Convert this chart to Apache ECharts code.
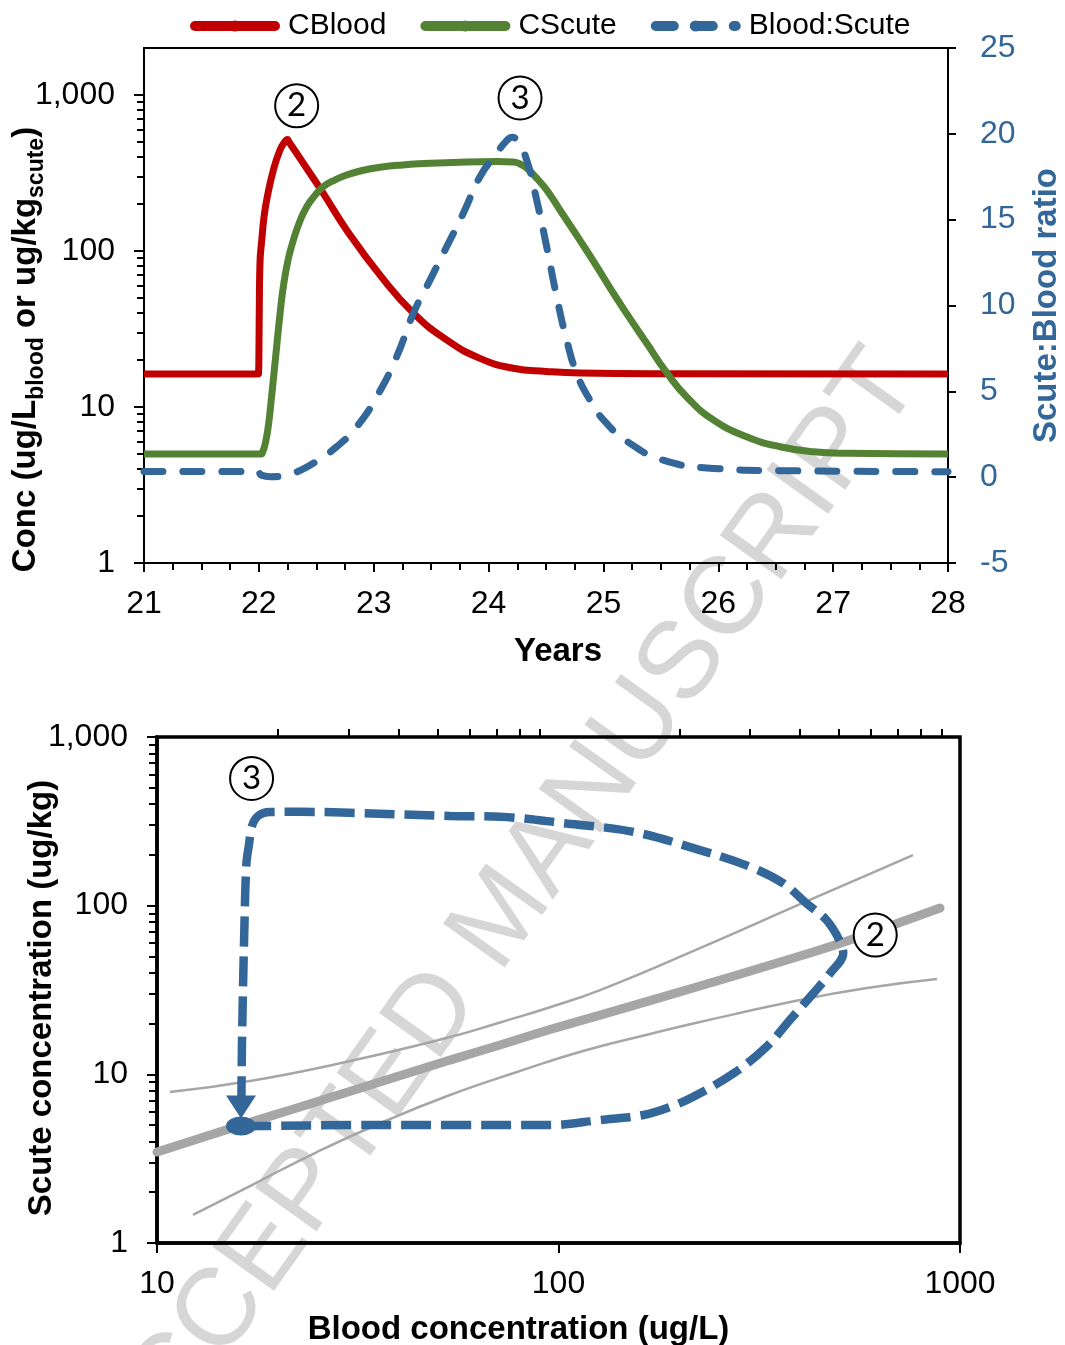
<!DOCTYPE html>
<html><head><meta charset="utf-8">
<script src="https://cdn.jsdelivr.net/npm/echarts@6/dist/echarts.min.js"></script>
<style>html,body{margin:0;padding:0;background:#fff}#c{width:1065px;height:1345px}</style>
</head><body><div id="c"></div>
<script>
const FONT = '"Liberation Sans", Arial, Helvetica, sans-serif';
const NUMFONT = 'Lato, "Open Sans", sans-serif';
const RED = '#C00000', GREEN = '#548235', BLUE = '#336699', GRAY = '#A6A6A6', BLACK = '#000000';

// ---------- top chart: time series ----------
const bloodYears = [21, 21.99, 21.997, 22.0, 22.004, 22.01, 22.025, 22.045, 22.068, 22.126, 22.184, 22.225, 22.248, 22.262, 22.387, 22.561, 22.765, 23.055, 23.345, 23.635, 23.925, 24.215, 24.5, 24.8, 25.5, 28];
const bloodConc  = [16.3, 16.3, 16.4, 20, 45, 85, 117, 165, 212, 330, 444, 500, 518, 500, 365, 234, 136, 70, 40, 26.9, 20.5, 17.7, 16.9, 16.5, 16.35, 16.3];

const scuteYears = [21, 22.02, 22.035, 22.05, 22.07, 22.087, 22.11, 22.13, 22.155, 22.185, 22.213, 22.255, 22.3, 22.357, 22.417, 22.49, 22.561, 22.66, 22.765, 22.9, 23.055, 23.25, 23.49, 23.75, 24.07, 24.215, 24.27, 24.332, 24.42, 24.506, 24.65, 24.796, 24.94, 25.086, 25.23, 25.377, 25.551, 25.725, 25.957, 26.247, 26.537, 26.827, 27.118, 28];
const scuteConc  = [5.0, 5.0, 5.2, 5.6, 6.6, 8.0, 11.5, 16, 24.4, 40, 59, 88, 117, 155, 192, 228, 258, 285, 307, 328, 344, 356, 365, 371, 374, 372, 362, 340, 292, 246, 170, 117, 80, 53.6, 37, 25.6, 16.6, 11.6, 8.26, 6.45, 5.56, 5.16, 5.05, 5.0];

const ratioYears = [21, 21.99, 22.02, 22.1, 22.2, 22.3, 22.474, 22.677, 22.852, 23.026, 23.2, 23.345, 23.49, 23.635, 23.78, 23.925, 24.07, 24.15, 24.205, 24.26, 24.332, 24.419, 24.506, 24.593, 24.68, 24.767, 24.883, 25.028, 25.231, 25.521, 25.957, 26.537, 28];
const ratioVals  = [0.33, 0.33, 0.12, 0.03, 0.06, 0.22, 0.81, 1.77, 2.94, 4.69, 7.02, 9.54, 11.48, 13.42, 15.37, 17.5, 18.86, 19.55, 19.8, 19.45, 18.47, 16.14, 13.42, 10.51, 7.99, 6.05, 4.49, 3.13, 1.97, 0.99, 0.51, 0.38, 0.32];

const topAnnotLabels = ['2', '3'];
const topAnnotYears  = [22.329, 24.274];
const topAnnotConc   = [853, 957];

// ---------- bottom chart: blood vs scute ----------
const loopBlood = [16.2, 20, 30.2, 53.7, 95.2, 126.9, 162.6, 189.5, 216.7, 272.5, 330, 377, 431, 474.6, 512, 500.6, 465, 415, 363, 300, 225, 153.6, 104.8, 71.5, 53.7, 30.2, 22.7, 19.1, 17.85, 17.24, 16.94, 16.7, 16.5, 16.3, 16.25, 16.23];
const loopScute = [4.92, 4.95, 5.0, 5.0, 5.0, 5.36, 5.74, 6.4, 7.37, 10.1, 14.6, 21.0, 30.2, 39.7, 52.2, 62.5, 82.2, 103, 135.6, 170, 213.6, 274, 307, 336.6, 340, 355.6, 360, 359, 340, 296, 228.5, 178, 71.7, 18.3, 10.6, 7.3];

const fitBlood = [10, 16.09, 22.71, 36.55, 53.68, 71.51, 95.25, 126.9, 225.1, 399.5, 532.1, 891.7];
const fitScute = [3.46, 4.97, 6.40, 9.13, 12.15, 14.92, 18.43, 22.46, 33.38, 50.26, 62.54, 96.78];

const upperBlood = [10.77, 17.04, 30.25, 53.68, 71.51, 95.25, 126.9, 225.1, 399.5, 586.7, 763.6];
const upperScute = [7.86, 9.13, 11.99, 16.64, 20.3, 25.0, 31.6, 56.07, 102.2, 151.9, 199.5];

const lowerBlood = [12.29, 17.04, 25.03, 36.55, 53.68, 78.8, 115.1, 169.0, 225.1, 399.5, 586.7, 876.3];
const lowerScute = [1.466, 2.177, 3.463, 5.216, 7.54, 10.32, 13.74, 17.34, 20.42, 27.57, 32.48, 36.72];

const botAnnotLabels = ['3', '2'];
const botAnnotBlood  = [17.2, 615];
const botAnnotScute  = [568, 66.9];
const arrowBlood = 16.19, arrowScute = 6.4;
const startBlood = 16.19, startScute = 4.94;

// ---------- ticks ----------
const decadeTicks = [1, 10, 100, 1000];
const minorLogTicks = [2,3,4,5,6,7,8,9,20,30,40,50,60,70,80,90,200,300,400,500,600,700,800,900];

const zip = (a, b) => a.map((v, i) => [v, b[i]]);
const commas = v => Math.round(v).toLocaleString('en-US');

const circleMark = (name, coord) => ({
  name, coord, symbol: 'circle', symbolSize: 43,
  itemStyle: {color: '#ffffff', borderColor: BLACK, borderWidth: 2},
  label: {show: true, position: 'inside', formatter: '{b}', fontSize: 33, color: BLACK, fontFamily: NUMFONT}
});

const axisLabelStyle = {fontSize: 32, color: BLACK, fontFamily: FONT};
const nameStyle = {fontSize: 33, fontWeight: 'bold', color: BLACK, fontFamily: FONT};

const chart = echarts.init(document.getElementById('c'), null, {renderer: 'canvas'});
chart.setOption({
  animation: false,
  backgroundColor: '#ffffff',
  textStyle: {fontFamily: FONT},
  graphic: [{
    type: 'text', x: 897, y: 365, rotation: 54.5 * Math.PI / 180, z: -10, silent: true,
    style: {text: 'ACCEPTED MANUSCRIPT', fontSize: 110, fontFamily: FONT, fill: '#D6D6D6', align: 'right', verticalAlign: 'middle'}
  }],
  legend: {
    top: 6, left: 185, itemWidth: 80, itemHeight: 14, itemGap: 34, selectedMode: false,
    textStyle: {fontSize: 30, color: BLACK, fontFamily: FONT, padding: [0, 0, 0, 8]},
    lineStyle: {width: 10, cap: 'round'},
    data: ['CBlood', 'CScute', {name: 'Blood:Scute', lineStyle: {width: 10, cap: 'round', type: [18, 21]}}]
  },
  grid: [
    {left: 144, top: 48, width: 804, height: 515, show: true, borderColor: BLACK, borderWidth: 2, backgroundColor: 'transparent', outerBoundsMode: 'none'},
    {left: 157, top: 737, width: 803, height: 506, show: true, borderColor: BLACK, borderWidth: 3.5, backgroundColor: 'transparent', outerBoundsMode: 'none'}
  ],
  xAxis: [
    {gridIndex: 0, type: 'value', min: 21, max: 28, interval: 1,
     axisLine: {onZero: false, lineStyle: {color: BLACK, width: 2}},
     axisTick: {length: 9, lineStyle: {color: BLACK, width: 2}},
     minorTick: {show: true, splitNumber: 4, length: 7, lineStyle: {color: BLACK, width: 2}},
     splitLine: {show: false}, minorSplitLine: {show: false},
     axisLabel: Object.assign({margin: 25}, axisLabelStyle),
     name: 'Years', nameLocation: 'middle', nameGap: 72,
     nameTextStyle: Object.assign({padding: [0, 0, 0, 24]}, nameStyle)},
    {gridIndex: 1, type: 'log', logBase: 10, min: 10, max: 1000,
     axisLine: {onZero: false, lineStyle: {color: BLACK, width: 3.5}},
     axisTick: {length: 10, customValues: [10, 100, 1000], lineStyle: {color: BLACK, width: 2}},
     splitLine: {show: false},
     axisLabel: Object.assign({margin: 25, customValues: [10, 100, 1000], formatter: v => String(Math.round(v))}, axisLabelStyle),
     name: 'Blood concentration (ug/L)', nameLocation: 'middle', nameGap: 70,
     nameTextStyle: Object.assign({padding: [0, 80, 0, 0]}, nameStyle)},
    {gridIndex: 1, type: 'log', logBase: 10, min: 10, max: 1000,
     axisLine: {show: false, onZero: false},
     axisTick: {length: 8, customValues: minorLogTicks.map(v => v * 10), lineStyle: {color: BLACK, width: 2}},
     splitLine: {show: false}, axisLabel: {show: false}}
  ],
  yAxis: [
    {gridIndex: 0, type: 'log', logBase: 10, min: 1, max: 2000, position: 'left',
     axisLine: {show: true, onZero: false, lineStyle: {color: BLACK, width: 2}},
     axisTick: {show: true, length: 10, customValues: decadeTicks, lineStyle: {color: BLACK, width: 2}},
     splitLine: {show: false},
     axisLabel: Object.assign({margin: 29, customValues: decadeTicks, formatter: commas}, axisLabelStyle),
     name: '{b|Conc (ug/L}{s|blood}{b| or ug/kg}{s|scute}{b|)}', nameLocation: 'middle', nameGap: 96, nameMoveOverlap: false,
     nameTextStyle: {padding: [0, 88, 0, 0], rich: {
       b: {fontSize: 33, fontWeight: 'bold', color: BLACK, fontFamily: FONT, lineHeight: 44, verticalAlign: 'middle'},
       s: {fontSize: 23, fontWeight: 'bold', color: BLACK, fontFamily: FONT, lineHeight: 20, verticalAlign: 'bottom'}
     }}},
    {gridIndex: 0, type: 'value', min: -5, max: 25, interval: 5, position: 'right',
     axisLine: {show: true, onZero: false, lineStyle: {color: BLACK, width: 2}},
     axisTick: {show: true, length: 8, lineStyle: {color: BLACK, width: 2}},
     splitLine: {show: false},
     axisLabel: {margin: 32, fontSize: 32, color: BLUE, fontFamily: FONT},
     name: 'Scute:Blood ratio', nameLocation: 'middle', nameGap: 82, nameMoveOverlap: false,
     nameTextStyle: {fontSize: 33, fontWeight: 'bold', color: BLUE, fontFamily: FONT}},
    {gridIndex: 0, type: 'log', logBase: 10, min: 1, max: 2000, position: 'left',
     axisLine: {show: false, onZero: false},
     axisTick: {show: true, length: 7, customValues: minorLogTicks, lineStyle: {color: BLACK, width: 2}},
     splitLine: {show: false}, axisLabel: {show: false}},
    {gridIndex: 1, type: 'log', logBase: 10, min: 1, max: 1000, position: 'left',
     axisLine: {show: true, onZero: false, lineStyle: {color: BLACK, width: 3.5}},
     axisTick: {show: true, length: 10, customValues: decadeTicks, lineStyle: {color: BLACK, width: 2}},
     splitLine: {show: false},
     axisLabel: Object.assign({margin: 29, customValues: decadeTicks, formatter: commas}, axisLabelStyle),
     name: 'Scute concentration (ug/kg)', nameLocation: 'middle', nameGap: 99, nameMoveOverlap: false,
     nameTextStyle: Object.assign({padding: [0, 16, 0, 0]}, nameStyle)},
    {gridIndex: 1, type: 'log', logBase: 10, min: 1, max: 1000, position: 'left',
     axisLine: {show: false, onZero: false},
     axisTick: {show: true, length: 8, customValues: minorLogTicks, lineStyle: {color: BLACK, width: 2}},
     splitLine: {show: false}, axisLabel: {show: false}}
  ],
  series: [
    {name: 'CBlood', type: 'line', xAxisIndex: 0, yAxisIndex: 0, symbol: 'none', smooth: 0.5,
     data: zip(bloodYears, bloodConc), itemStyle: {color: RED},
     lineStyle: {color: RED, width: 7, join: 'round'},
     markPoint: {data: topAnnotLabels.map((n, i) => circleMark(n, [topAnnotYears[i], topAnnotConc[i]]))}},
    {name: 'CScute', type: 'line', xAxisIndex: 0, yAxisIndex: 0, symbol: 'none', smooth: 0.5,
     data: zip(scuteYears, scuteConc), itemStyle: {color: GREEN},
     lineStyle: {color: GREEN, width: 7, join: 'round'}},
    {name: 'Blood:Scute', type: 'line', xAxisIndex: 0, yAxisIndex: 1, symbol: 'none', smooth: 0.5,
     data: zip(ratioYears, ratioVals), itemStyle: {color: BLUE},
     lineStyle: {color: BLUE, width: 7, type: [19, 20], cap: 'round'}},

    {type: 'line', xAxisIndex: 1, yAxisIndex: 3, symbol: 'none', smooth: 0.5, z: 1,
     data: zip(upperBlood, upperScute), lineStyle: {color: GRAY, width: 2.5}},
    {type: 'line', xAxisIndex: 1, yAxisIndex: 3, symbol: 'none', smooth: 0.5, z: 1,
     data: zip(lowerBlood, lowerScute), lineStyle: {color: GRAY, width: 2.5}},
    {type: 'line', xAxisIndex: 1, yAxisIndex: 3, symbol: 'none', smooth: 0.5, z: 1,
     data: zip(fitBlood, fitScute), lineStyle: {color: GRAY, width: 9, cap: 'round'}},
    {type: 'line', xAxisIndex: 1, yAxisIndex: 3, symbol: 'none', smooth: 0.35,
     data: zip(loopBlood, loopScute), lineStyle: {color: BLUE, width: 8.5, type: [30, 10]},
     markPoint: {data: [
       {name: '', coord: [arrowBlood, arrowScute], symbol: 'triangle', symbolRotate: 180, symbolSize: [30, 23],
        itemStyle: {color: BLUE}, label: {show: false}},
       {name: '', coord: [startBlood, startScute], symbol: 'circle', symbolSize: [30, 19],
        itemStyle: {color: BLUE}, label: {show: false}}
     ].concat(botAnnotLabels.map((n, i) => circleMark(n, [botAnnotBlood[i], botAnnotScute[i]])))}}
  ]
});
</script>
</body></html>
